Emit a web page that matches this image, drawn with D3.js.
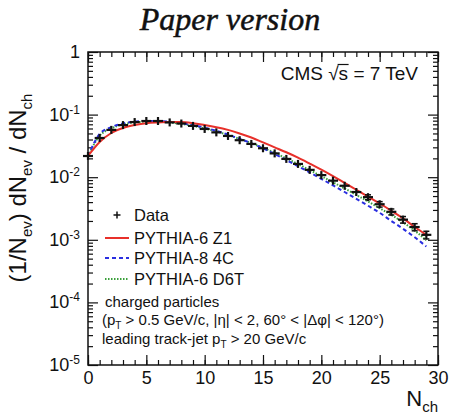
<!DOCTYPE html>
<html>
<head>
<meta charset="utf-8">
<script src="https://cdn.jsdelivr.net/npm/d3@7"></script>
<style>
  body { margin: 0; background: #fff; }
  svg text { font-family: "Liberation Sans", Arial, sans-serif; fill: #111; }
</style>
</head>
<body>
<svg id="chart" width="450" height="415"></svg>
<script>
// multiplicity bins
const nch = d3.range(0, 30);

// measured (1/Nev) dNev/dNch and its relative uncertainty
const dataVals = [0.0218, 0.0423, 0.057, 0.068, 0.076, 0.079, 0.079, 0.075, 0.072, 0.066,
                  0.059, 0.052, 0.0456, 0.039, 0.034, 0.029, 0.024, 0.0196, 0.0163, 0.0131,
                  0.0108, 0.0088, 0.0073, 0.0058, 0.0048, 0.0037, 0.0028, 0.0021, 0.0016, 0.0012];
const dataErr  = [0.03, 0.03, 0.03, 0.03, 0.03, 0.03, 0.03, 0.03, 0.03, 0.03,
                  0.03, 0.03, 0.03, 0.035, 0.035, 0.04, 0.04, 0.04, 0.045, 0.045,
                  0.05, 0.06, 0.07, 0.08, 0.09, 0.10, 0.11, 0.12, 0.13, 0.14];

// MC predictions
const z1Vals   = [0.0218, 0.0365, 0.0508, 0.061, 0.068, 0.073, 0.075, 0.076, 0.076, 0.073,
                  0.068, 0.063, 0.057, 0.050, 0.043, 0.036, 0.030, 0.025, 0.0205, 0.0165,
                  0.0132, 0.0104, 0.0081, 0.0063, 0.0049, 0.0038, 0.0029, 0.0022, 0.0016, 0.0012];
const c4Vals   = [0.0218, 0.049, 0.063, 0.072, 0.077, 0.079, 0.079, 0.077, 0.073, 0.068,
                  0.062, 0.055, 0.048, 0.041, 0.035, 0.029, 0.0235, 0.0188, 0.015, 0.0119,
                  0.0094, 0.0074, 0.0058, 0.0045, 0.0035, 0.0027, 0.0020, 0.0015, 0.0011, 0.00078];
const d6tVals  = [0.0218, 0.046, 0.060, 0.070, 0.075, 0.077, 0.077, 0.075, 0.071, 0.066,
                  0.060, 0.054, 0.047, 0.041, 0.035, 0.0295, 0.0245, 0.020, 0.0162, 0.013,
                  0.0104, 0.0083, 0.0066, 0.0052, 0.0041, 0.0032, 0.0025, 0.0019, 0.0014, 0.00098];

const xMajor = [0, 5, 10, 15, 20, 25, 30];
const yDecades = [0, -1, -2, -3, -4, -5];

const series = [
  { name: "PYTHIA-6 Z1",  vals: z1Vals,  color: "#e8302a", dash: null },
  { name: "PYTHIA-8 4C",  vals: c4Vals,  color: "#2a2ee0", dash: "4,3" },
  { name: "PYTHIA-6 D6T", vals: d6tVals, color: "#3aa03a", dash: "1.5,1.5" }
];

const pLeft = 88, pRight = 438, pTop = 52, pBottom = 365;

const svg = d3.select("#chart");

const x = d3.scaleLinear().domain([0, 30]).range([pLeft, pRight]);
const y = d3.scaleLog().domain([1e-5, 1]).range([pBottom, pTop]);

// title
svg.append("text")
  .attr("x", 230).attr("y", 30)
  .attr("text-anchor", "middle")
  .style("font-family", "'Liberation Serif', serif")
  .style("font-style", "italic")
  .style("font-size", "32px")
  .attr("stroke", "#111").attr("stroke-width", 0.5)
  .text("Paper version");

// --- axes ---
let yMinor = [];
yDecades.slice(1).forEach(e => {
  d3.range(2, 10).forEach(k => yMinor.push(k * Math.pow(10, e)));
});

function drawAxis(axis, tx, ty) {
  const g = svg.append("g").attr("transform", `translate(${tx},${ty})`).call(axis);
  g.select(".domain").remove();
  g.selectAll(".tick line").attr("stroke", "#111").attr("stroke-width", 1.2);
  return g;
}

// bottom
const xb = drawAxis(d3.axisBottom(x).tickValues(xMajor).tickSize(-10).tickPadding(6), 0, pBottom);
xb.selectAll("text").style("font-size", "18px").style("font-family", "'Liberation Sans', Arial, sans-serif").attr("fill", "#111");
drawAxis(d3.axisBottom(x).tickValues(d3.range(0, 31)).tickSize(-5).tickFormat(""), 0, pBottom);
// top mirror
drawAxis(d3.axisTop(x).tickValues(xMajor).tickSize(-10).tickFormat(""), 0, pTop);
drawAxis(d3.axisTop(x).tickValues(d3.range(0, 31)).tickSize(-5).tickFormat(""), 0, pTop);
// left
const yDecVals = yDecades.map(e => Math.pow(10, e));
drawAxis(d3.axisLeft(y).tickValues(yDecVals).tickSize(-10).tickFormat(""), pLeft, 0);
drawAxis(d3.axisLeft(y).tickValues(yMinor).tickSize(-5).tickFormat(""), pLeft, 0);
// right mirror
drawAxis(d3.axisRight(y).tickValues(yDecVals).tickSize(-10).tickFormat(""), pRight, 0);
drawAxis(d3.axisRight(y).tickValues(yMinor).tickSize(-5).tickFormat(""), pRight, 0);

// y labels with superscripts
yDecades.forEach(e => {
  const t = svg.append("text")
    .attr("x", pLeft - 8).attr("y", y(Math.pow(10, e)) + 6)
    .attr("text-anchor", "end")
    .style("font-size", "18px");
  if (e === 0) {
    t.text("1");
  } else {
    t.append("tspan").text("10");
    t.append("tspan").attr("dy", -7).style("font-size", "12px").text("-" + (-e));
  }
});

// frame
svg.append("rect")
  .attr("x", pLeft).attr("y", pTop)
  .attr("width", pRight - pLeft).attr("height", pBottom - pTop)
  .attr("fill", "none").attr("stroke", "#111").attr("stroke-width", 1.5);

// axis titles
const yt = svg.append("text")
  .attr("transform", "translate(26,188) rotate(-90)")
  .attr("text-anchor", "middle")
  .style("font-size", "24px");
yt.append("tspan").text("(1/N");
yt.append("tspan").attr("dy", 6).style("font-size", "15px").text("ev");
yt.append("tspan").attr("dy", -6).text(") dN");
yt.append("tspan").attr("dy", 6).style("font-size", "15px").text("ev");
yt.append("tspan").attr("dy", -6).text(" / dN");
yt.append("tspan").attr("dy", 6).style("font-size", "15px").text("ch");

const xt = svg.append("text")
  .attr("x", pRight).attr("y", 406)
  .attr("text-anchor", "end")
  .style("font-size", "22px");
xt.append("tspan").text("N");
xt.append("tspan").attr("dy", 6).style("font-size", "15px").text("ch");

// --- curves ---
const line = d3.line()
  .x((d, i) => x(nch[i]))
  .y(d => y(d))
  .curve(d3.curveMonotoneX);

const plot = svg.append("g");
series.slice().reverse().forEach(s => {
  plot.append("path")
    .attr("d", line(s.vals))
    .attr("fill", "none")
    .attr("stroke", s.color)
    .attr("stroke-width", 2)
    .attr("stroke-dasharray", s.dash);
});

// data points
const pts = plot.selectAll("g.pt")
  .data(nch.map((n, i) => ({ n, v: dataVals[i], e: dataErr[i] })))
  .join("g").attr("class", "pt");
pts.append("line")
  .attr("x1", d => x(d.n) - 5).attr("x2", d => x(d.n) + 5)
  .attr("y1", d => y(d.v)).attr("y2", d => y(d.v))
  .attr("stroke", "#111").attr("stroke-width", 2.2);
pts.append("line")
  .attr("x1", d => x(d.n)).attr("x2", d => x(d.n))
  .attr("y1", d => Math.min(y(d.v * (1 + d.e)), y(d.v) - 4))
  .attr("y2", d => Math.max(y(d.v * (1 - d.e)), y(d.v) + 4))
  .attr("stroke", "#111").attr("stroke-width", 2.2);
// caps where the error exceeds the marker
pts.filter(d => y(d.v * (1 - d.e)) - y(d.v) > 2.5).each(function(d) {
  const g = d3.select(this);
  [y(d.v * (1 + d.e)), y(d.v * (1 - d.e))].forEach(yy => {
    g.append("line")
      .attr("x1", x(d.n) - 3).attr("x2", x(d.n) + 3)
      .attr("y1", yy).attr("y2", yy)
      .attr("stroke", "#111").attr("stroke-width", 1.5);
  });
});

// --- legend ---
const legX = 105, legText = 134;
const legRows = [215, 238, 258, 279];
const lg = svg.append("g").style("font-size", "16.5px");
lg.append("line").attr("x1", 117 - 3.5).attr("x2", 117 + 3.5).attr("y1", legRows[0]).attr("y2", legRows[0])
  .attr("stroke", "#111").attr("stroke-width", 1.5);
lg.append("line").attr("x1", 117).attr("x2", 117).attr("y1", legRows[0] - 3.5).attr("y2", legRows[0] + 3.5)
  .attr("stroke", "#111").attr("stroke-width", 1.5);
lg.append("text").attr("x", legText).attr("y", legRows[0] + 6).text("Data");
series.forEach((s, i) => {
  const yy = legRows[i + 1];
  lg.append("line").attr("x1", legX).attr("x2", legX + 24).attr("y1", yy).attr("y2", yy)
    .attr("stroke", s.color).attr("stroke-width", 2).attr("stroke-dasharray", s.dash);
  lg.append("text").attr("x", legText).attr("y", yy + 6).text(s.name);
});

// cuts annotation
const note = svg.append("g").style("font-size", "15px");
note.append("text").attr("x", 105).attr("y", 307).text("charged particles");
const l2 = note.append("text").attr("x", 102).attr("y", 325);
l2.append("tspan").text("(p");
l2.append("tspan").attr("dy", 4).style("font-size", "10px").text("T");
l2.append("tspan").attr("dy", -4).text(" > 0.5 GeV/c, |\u03b7| < 2, 60\u00b0 < |\u0394\u03c6| < 120\u00b0)");
const l3 = note.append("text").attr("x", 102).attr("y", 344);
l3.append("tspan").text("leading track-jet p");
l3.append("tspan").attr("dy", 4).style("font-size", "10px").text("T");
l3.append("tspan").attr("dy", -4).text(" > 20 GeV/c");

// CMS label with sqrt bar over s
const cms = svg.append("text")
  .attr("x", 418).attr("y", 80)
  .attr("text-anchor", "end")
  .style("font-size", "19px")
  .text("CMS \u221as = 7 TeV");
const node = cms.node();
const sx1 = node.getEndPositionOfChar(5).x;
const rx1 = node.getEndPositionOfChar(4).x;
svg.append("line")
  .attr("x1", rx1 - 1).attr("x2", sx1 + 0.5)
  .attr("y1", 64.5).attr("y2", 64.5)
  .attr("stroke", "#111").attr("stroke-width", 1.2);
</script>
</body>
</html>
